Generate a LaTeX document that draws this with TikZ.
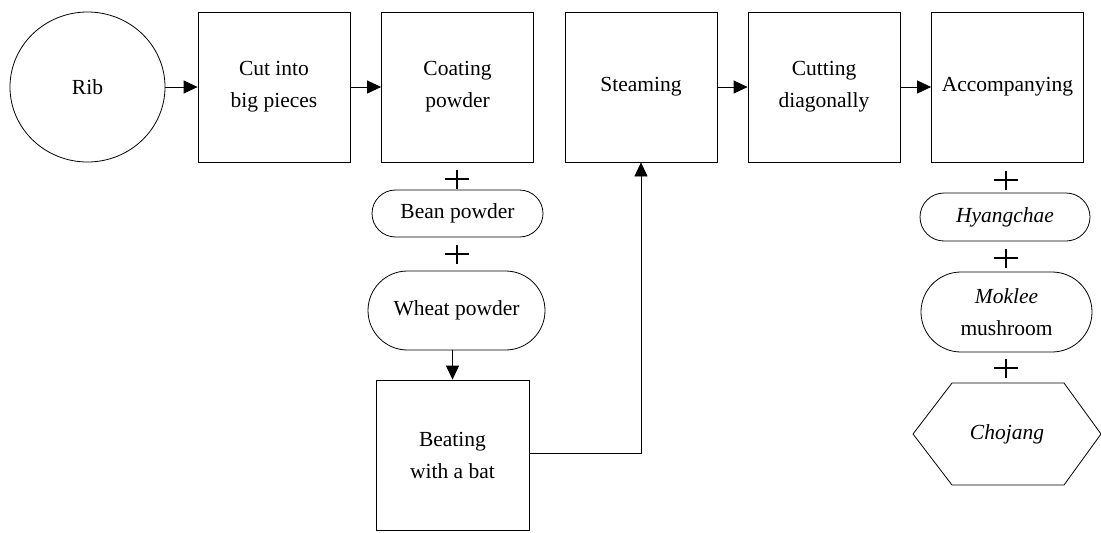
\documentclass[tikz,border=0pt]{standalone}
\usepackage{fontspec}
\setmainfont{Liberation Serif}
\usetikzlibrary{arrows.meta,shapes.geometric,shapes.misc}
\begin{document}
\begin{tikzpicture}[x=1pt,y=-1pt,
  every node/.style={font=\fontsize{21.5}{32}\selectfont, align=center, inner sep=0pt},
  stepbox/.style={draw, line width=0.8pt, rectangle, minimum width=152pt, minimum height=150pt},
  pill/.style={draw, line width=0.8pt, rounded rectangle, minimum width=171pt},
  flow/.style={line width=0.8pt, -{Triangle[length=14pt,width=13pt]}},
  plussign/.style={minimum width=24pt, minimum height=19pt,
    path picture={\draw[line width=2pt]
      (path picture bounding box.west) -- (path picture bounding box.east)
      (path picture bounding box.north) -- (path picture bounding box.south);}}
]
\useasboundingbox (0,0) rectangle (1101,533);

% main process line
\node[draw, line width=0.8pt, ellipse, minimum width=155pt, minimum height=150pt] (rib) at (87.5,87) {Rib};
\node[stepbox] (cut)   at (274,87)    {Cut into\\big pieces};
\node[stepbox] (coat)  at (457.5,87)  {Coating\\powder};
\node[stepbox] (steam) at (641,87)    {Steaming};
\node[stepbox] (diag)  at (824,87)    {Cutting\\diagonally};
\node[stepbox] (acc)   at (1007.5,87) {Accompanying};

% coating ingredients
\node[plussign] (pa) at (457,179) {};
\node[pill, minimum height=47pt] (bean) at (457.5,213.5) {Bean powder};
\node[plussign] (pb) at (457,254) {};
\node[pill, minimum width=177pt, minimum height=79pt] (wheat) at (456.5,310.5) {Wheat powder};
\node[stepbox, minimum width=153pt] (beat) at (452.5,455) {Beating\\with a bat};

% accompaniments
\node[plussign] (pc) at (1006,180) {};
\node[pill, minimum width=170pt, minimum height=48pt] (hyang) at (1005,217) {\itshape Hyangchae};
\node[plussign] (pd) at (1006,258) {};
\node[pill, minimum height=80pt] (mok) at (1006.5,312) {\itshape Moklee\\mushroom};
\node[plussign] (pe) at (1006,368) {};
\draw[line width=0.8pt] (913,434) -- (952,383) -- (1064,383) -- (1101,434) -- (1064,485) -- (952,485) -- cycle;
\node (cho) at (1007,434) {\itshape Chojang};

% connectors
\draw[flow] (rib.east) -- (cut.west);
\draw[flow] (cut.east) -- (coat.west);
\draw[flow] (steam.east) -- (diag.west);
\draw[flow] (diag.east) -- (acc.west);
\draw[flow] (wheat.south -| beat.north) -- (beat.north);
\draw[flow] ([yshift=2pt]beat.east) -| (steam.south);
\end{tikzpicture}
\end{document}
